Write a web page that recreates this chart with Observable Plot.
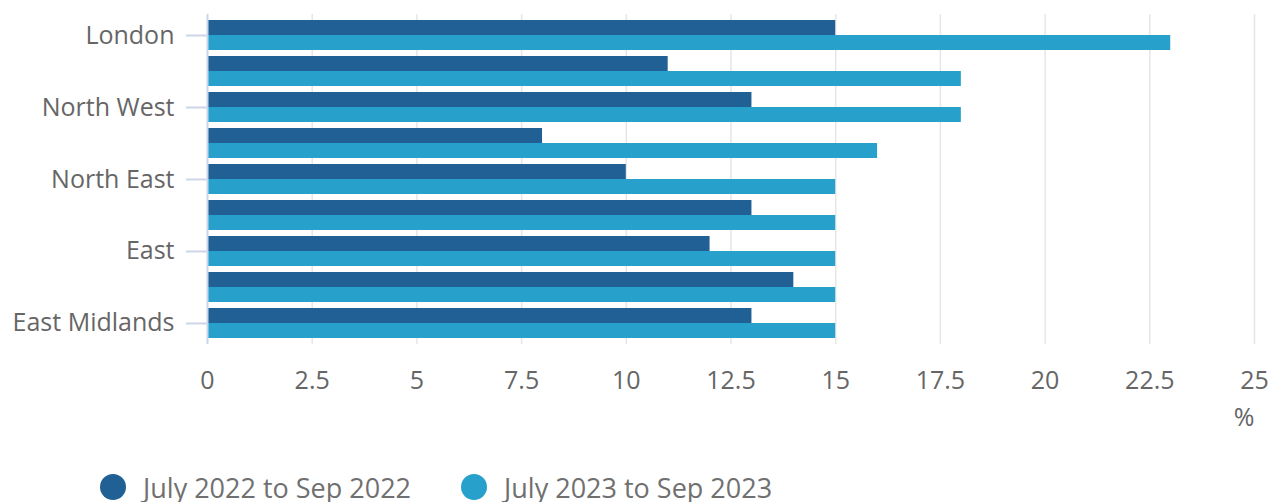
<!DOCTYPE html>
<html><head><meta charset="utf-8">
<script src="https://cdn.jsdelivr.net/npm/d3@7"></script>
<script src="https://cdn.jsdelivr.net/npm/@observablehq/plot@0.6"></script>
<style>
body{margin:0;background:#fff;font-family:"Open Sans",sans-serif;}
#chart svg{display:block;}
#legend{display:flex;align-items:center;height:30px;margin-left:100px;margin-top:32px;font-size:27px;color:#707070;}
.item{display:flex;align-items:center;margin-right:50px;}
.dot{width:26px;height:26px;border-radius:50%;margin-right:17px;}
</style></head>
<body><div id="chart"></div><div id="legend"></div>
<script>
const regions = ["London","South East","North West","South West","North East","West Midlands","East","Yorkshire and The Humber","East Midlands"];
const shownLabels = ["London","North West","North East","East","East Midlands"];
const series = ["July 2022 to Sep 2022","July 2023 to Sep 2023"];
const values2022 = [15,11,13,8,10,13,12,14,13];
const values2023 = [23,18,18,16,15,15,15,15,15];
const colors = ["#206095","#27a0cc"];
const xTicks = [0,2.5,5,7.5,10,12.5,15,17.5,20,22.5,25];

const W = 1269, H = 440, mt = 14, mb = 96, ml = 207, mr = 15, pad = 0.167;
const step = (H - mt - mb) / (regions.length + pad);
const bw = step * (1 - pad);

const d22 = regions.map((r,i)=>({region:r, series:series[0], value:values2022[i]}));
const d23 = regions.map((r,i)=>({region:r, series:series[1], value:values2023[i]}));

const plot = Plot.plot({
  width: W, height: H, marginTop: mt, marginBottom: mb, marginLeft: ml, marginRight: mr,
  style: {fontFamily: "'Open Sans', sans-serif", fontSize: "25px", color: "#666"},
  x: {domain: [0,25], ticks: xTicks, label: null},
  y: {domain: regions, padding: pad, round: false, label: null},
  marks: [
    Plot.gridX(xTicks.slice(1), {stroke: "#e6e6e6", strokeOpacity: 1, strokeWidth: 1.5}),
    Plot.barX(d22, {y: "region", x: "value", fill: colors[0], insetBottom: bw/2}),
    Plot.barX(d23, {y: "region", x: "value", fill: colors[1], insetTop: bw/2}),
    Plot.ruleX([0], {stroke: "#ccd6eb", strokeWidth: 2}),
    Plot.axisY({ticks: shownLabels, tickSize: 21, tickPadding: 12, stroke: "#ccd6eb", strokeWidth: 2, fill: "#666", fontSize: 25, label: null}),
    Plot.axisX({ticks: xTicks, tickSize: 0, tickPadding: 27, fill: "#666", fontSize: 25, label: null, tickFormat: d => String(d)}),
    Plot.text(["%"], {frameAnchor: "bottom-right", dx: 0, dy: 81, fill: "#666", fontSize: 25})
  ]
});
document.getElementById("chart").appendChild(plot);
const lg = document.getElementById("legend");
series.forEach((s,i)=>{
  const it = document.createElement("div"); it.className="item";
  it.innerHTML = `<span class="dot" style="background:${colors[i]}"></span><span>${s}</span>`;
  lg.appendChild(it);
});
</script></body></html>
